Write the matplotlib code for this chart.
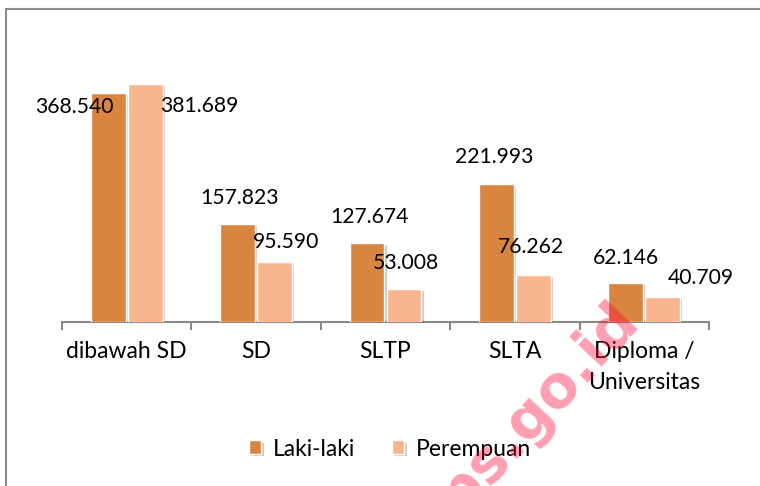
import matplotlib
matplotlib.use("Agg")
import matplotlib.pyplot as plt
import matplotlib.patheffects as pe
from matplotlib.patches import Rectangle
import numpy as np

# data
kategori = ["dibawah SD", "SD", "SLTP", "SLTA", "Diploma /\nUniversitas"]
laki = [368540, 157823, 127674, 221993, 62146]
perempuan = [381689, 95590, 53008, 76262, 40709]
label_laki = ["368.540", "157.823", "127.674", "221.993", "62.146"]
label_perempuan = ["381.689", "95.590", "53.008", "76.262", "40.709"]

plt.rcParams["font.family"] = ["Lato", "DejaVu Sans"]

c_laki = "#d9843f"
c_pr = "#f8b58e"
abu = "#8a8a8a"

fig = plt.figure(figsize=(7.6, 4.86), dpi=100)
ax = fig.add_axes([62/760, 164/486, 647/760, 249/486])

x = np.arange(len(kategori))
w = 0.27
d = 0.143
shadow = [pe.SimplePatchShadow(offset=(1.5, -1.5), alpha=0.25), pe.Normal()]
b1 = ax.bar(x - d, laki, w, color=c_laki, edgecolor="white", linewidth=1, label="Laki-laki", zorder=3)
b2 = ax.bar(x + d, perempuan, w, color=c_pr, edgecolor="white", linewidth=1, label="Perempuan", zorder=3)
for b in list(b1) + list(b2):
    b.set_path_effects(shadow)

ax.set_xlim(-0.5, len(kategori) - 0.5)
ax.set_ylim(0, 400000)

# label angka (geser dalam piksel, mengikuti posisi di gambar asli)
geser_laki = [(-34, -14), (2, 26), (2, 26), (-2, 27), (0, 25)]
geser_pr = [(54, -22), (11, 20), (2, 26), (-2, 28), (38, 19)]
for i in range(len(kategori)):
    ax.annotate(label_laki[i], (x[i] - d, laki[i]), xytext=geser_laki[i], textcoords="offset pixels",
                ha="center", va="center", fontsize=15.2, color="black", zorder=5)
    ax.annotate(label_perempuan[i], (x[i] + d, perempuan[i]), xytext=geser_pr[i], textcoords="offset pixels",
                ha="center", va="center", fontsize=15.2, color="black", zorder=5)

for s in ["top", "right", "left"]:
    ax.spines[s].set_visible(False)
ax.spines["bottom"].set_color(abu)
ax.spines["bottom"].set_linewidth(1.5)
ax.set_yticks([])
ax.set_xticks(x)
ax.set_xticklabels(kategori, fontsize=16.5, linespacing=1.55)
ax.tick_params(axis="x", which="major", length=0, pad=14)
ax.set_xticks(np.arange(-0.5, len(kategori)), minor=True)
ax.tick_params(axis="x", which="minor", length=6, width=1.5, color=abu)

fig.legend(loc="center", bbox_to_anchor=(390/760, 1 - 449/486), ncol=2, frameon=False,
           fontsize=16.5, handlelength=0.55, handleheight=0.55, handletextpad=0.5, columnspacing=1.6)

# bingkai
fig.patches.append(Rectangle((6/760, -0.5), 2, 1.5 - 9/486, transform=fig.transFigure,
                             fill=False, edgecolor=abu, linewidth=1.5))

# watermark
fig.text(640/760, 1 - 322/486, "bps.go.id", color="#ff0033", alpha=0.38, fontsize=42,
         fontweight="bold", family="DejaVu Sans", rotation=47, rotation_mode="anchor",
         ha="right", va="baseline", zorder=10)

fig.savefig("out.png", dpi=100)
